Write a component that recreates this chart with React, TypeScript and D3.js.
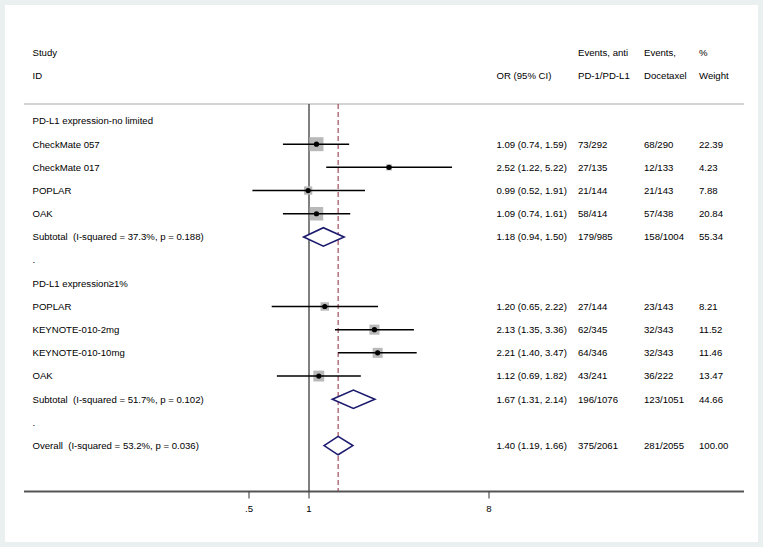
import React from "react";
import * as d3 from "d3";

const W = 763;
const H = 547;

const studies = ["CheckMate 057", "CheckMate 017", "POPLAR", "OAK", "POPLAR", "KEYNOTE-010-2mg", "KEYNOTE-010-10mg", "OAK"];
const studyGroup = [0, 0, 0, 0, 1, 1, 1, 1];
const orValues = [1.09, 2.52, 0.99, 1.09, 1.2, 2.13, 2.21, 1.12];
const ciLow = [0.74, 1.22, 0.52, 0.74, 0.65, 1.35, 1.4, 0.69];
const ciHigh = [1.59, 5.22, 1.91, 1.61, 2.22, 3.36, 3.47, 1.82];
const eventsAnti = ["73/292", "27/135", "21/144", "58/414", "27/144", "62/345", "64/346", "43/241"];
const eventsDoc = ["68/290", "12/133", "21/143", "57/438", "23/143", "32/343", "32/343", "36/222"];
const weights = [22.39, 4.23, 7.88, 20.84, 8.21, 11.52, 11.46, 13.47];

const groupNames = ["PD-L1 expression-no limited", "PD-L1 expression\u22651%"];
const subLabels = ["Subtotal  (I-squared = 37.3%, p = 0.188)", "Subtotal  (I-squared = 51.7%, p = 0.102)"];
const subOr = [1.18, 1.67];
const subLow = [0.94, 1.31];
const subHigh = [1.5, 2.14];
const subAnti = ["179/985", "196/1076"];
const subDoc = ["158/1004", "123/1051"];
const subWeight = ["55.34", "44.66"];

const overallLabel = "Overall  (I-squared = 53.2%, p = 0.036)";
const overallOr = 1.4;
const overallLow = 1.19;
const overallHigh = 1.66;
const overallAnti = "375/2061";
const overallDoc = "281/2055";
const overallWeight = "100.00";

const tickValues = [0.5, 1, 8];
const tickLabels = [".5", "1", "8"];

const fmt = (v: number) => v.toFixed(2);

type Row =
  | { kind: "head"; label: string }
  | { kind: "study"; i: number }
  | { kind: "sub"; g: number }
  | { kind: "dot" }
  | { kind: "overall" };

export default function App() {
  const rows: Row[] = [];
  groupNames.forEach((name, g) => {
    rows.push({ kind: "head", label: name });
    studies.forEach((_, i) => {
      if (studyGroup[i] === g) rows.push({ kind: "study", i });
    });
    rows.push({ kind: "sub", g });
    rows.push({ kind: "dot" });
  });
  rows.push({ kind: "overall" });

  const x = d3.scaleLog().base(2).domain([Math.pow(2, -4.75), Math.pow(2, 7.25)]).range([24, 744]);
  const y = d3.scaleLinear().domain([0, rows.length - 1]).range([121, 445.6]);
  const box = d3.scaleSqrt().domain([0, d3.max(weights) as number]).range([0, 14]);

  const lineTop = 104;
  const axisY = 491.5;
  const font = "'Liberation Sans', Arial, Helvetica, sans-serif";
  const fs = 9.6;
  const colOR = 496.5;
  const colA = 578;
  const colD = 644;
  const colW = 699;
  const labelX = 32.5;
  const diamondH = 9.2;
  const navy = "#1b1a6e";

  const T = (tx: number, ty: number, s: string, key?: string) => (
    <text key={key} x={tx} y={ty} dy="0.35em" fontSize={fs} fontFamily={font} fill="#000" style={{ whiteSpace: "pre" }}>
      {s}
    </text>
  );

  const diamond = (lo: number, mid: number, hi: number, cy: number) => {
    const p = [
      [x(lo), cy],
      [x(mid), cy - diamondH],
      [x(hi), cy],
      [x(mid), cy + diamondH],
    ];
    return <path d={d3.line()(p as [number, number][]) + "Z"} fill="#fff" stroke={navy} strokeWidth={1.6} />;
  };

  return (
    <svg width={W} height={H} style={{ position: "absolute", left: 0, top: 0, background: "#fff" }}>
      <rect x={2.5} y={2.5} width={W - 5} height={H - 5} fill="#fff" stroke="#eaf0f0" strokeWidth={5} />
      {T(labelX, 52.7, "Study")}
      {T(labelX, 75.5, "ID")}
      {T(colOR, 75.5, "OR (95% CI)")}
      {T(colA, 52.7, "Events, anti")}
      {T(colA, 75.5, "PD-1/PD-L1")}
      {T(colD, 52.7, "Events,")}
      {T(colD, 75.5, "Docetaxel")}
      {T(colW, 52.7, "%")}
      {T(colW, 75.5, "Weight")}
      <line x1={24} x2={744} y1={lineTop} y2={lineTop} stroke="#d4d4d4" strokeWidth={2} />

      <line x1={x(1)} x2={x(1)} y1={lineTop} y2={axisY} stroke="#555" strokeWidth={1.5} />
      <line x1={x(overallOr)} x2={x(overallOr)} y1={lineTop} y2={axisY} stroke="#8c2a3c" strokeWidth={1} strokeDasharray="5,3" />

      {rows.map((r, k) => {
        const cy = y(k);
        if (r.kind === "head") return <g key={k}>{T(labelX, cy, r.label)}</g>;
        if (r.kind === "dot") return <g key={k}>{T(labelX, cy, ".")}</g>;
        if (r.kind === "study") {
          const i = r.i;
          const s = box(weights[i]);
          return (
            <g key={k}>
              {T(labelX, cy, studies[i])}
              <rect x={x(orValues[i]) - s / 2} y={cy - s / 2} width={s} height={s} fill="#b9b9b9" />
              <line x1={x(ciLow[i])} x2={x(ciHigh[i])} y1={cy} y2={cy} stroke="#000" strokeWidth={1.5} />
              <circle cx={x(orValues[i])} cy={cy} r={2.6} fill="#000" />
              {T(colOR, cy, `${fmt(orValues[i])} (${fmt(ciLow[i])}, ${fmt(ciHigh[i])})`)}
              {T(colA, cy, eventsAnti[i])}
              {T(colD, cy, eventsDoc[i])}
              {T(colW, cy, fmt(weights[i]))}
            </g>
          );
        }
        if (r.kind === "sub") {
          const g = r.g;
          return (
            <g key={k}>
              {T(labelX, cy, subLabels[g])}
              {diamond(subLow[g], subOr[g], subHigh[g], cy)}
              {T(colOR, cy, `${fmt(subOr[g])} (${fmt(subLow[g])}, ${fmt(subHigh[g])})`)}
              {T(colA, cy, subAnti[g])}
              {T(colD, cy, subDoc[g])}
              {T(colW, cy, subWeight[g])}
            </g>
          );
        }
        return (
          <g key={k}>
            {T(labelX, cy, overallLabel)}
            {diamond(overallLow, overallOr, overallHigh, cy)}
            {T(colOR, cy, `${fmt(overallOr)} (${fmt(overallLow)}, ${fmt(overallHigh)})`)}
            {T(colA, cy, overallAnti)}
            {T(colD, cy, overallDoc)}
            {T(colW, cy, overallWeight)}
          </g>
        );
      })}

      <line x1={24} x2={744} y1={axisY} y2={axisY} stroke="#555" strokeWidth={2} />
      {tickValues.map((v, i) => (
        <g key={i}>
          <line x1={x(v)} x2={x(v)} y1={axisY} y2={axisY + 7} stroke="#333" strokeWidth={1} />
          <text x={x(v)} y={509} dy="0.35em" textAnchor="middle" fontSize={fs} fontFamily={font}>
            {tickLabels[i]}
          </text>
        </g>
      ))}
    </svg>
  );
}
